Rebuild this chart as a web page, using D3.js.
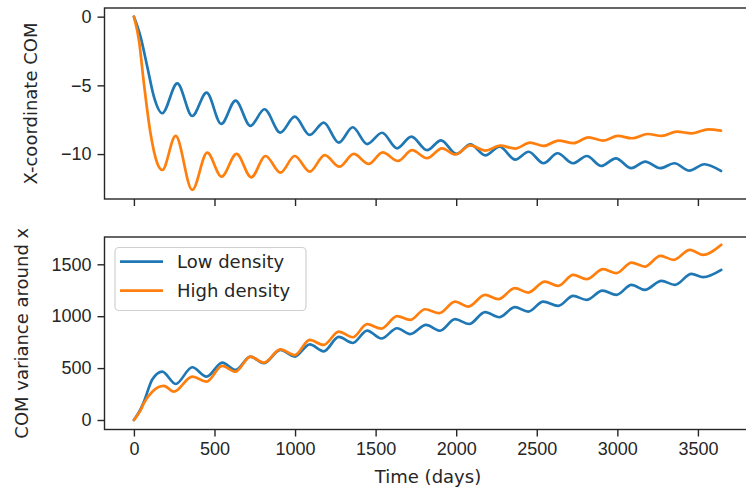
<!DOCTYPE html>
<html lang="en">
<head>
<meta charset="UTF-8">
<title>COM drift</title>
<script src="https://d3js.org/d3.v7.min.js"></script>
<style>
    body { margin: 0; padding: 0; background: #fff; }
    svg { display: block; font-family: "DejaVu Sans", sans-serif; }
    .axis text { font-size: 18px; fill: #262626; }
    .axis path, .axis line { stroke: #262626; stroke-width: 1.4; }
    .label { font-size: 18px; fill: #262626; text-anchor: middle; }
</style>
</head>
<body>
<svg width="746" height="490"></svg>
<script>
// series names and colours
const seriesNames = ["Low density", "High density"];
const seriesColors = ["#1f77b4", "#ff7f0e"];

// top panel: x-coordinate of centre of mass
const comDaysLow = [0, 41, 83, 124, 176, 269, 362, 451, 542, 631, 723, 810, 909, 998, 1091, 1178, 1271, 1358, 1447, 1540, 1633, 1722, 1819, 1906, 2001, 2088, 2181, 2269, 2366, 2449, 2542, 2629, 2724, 2811, 2900, 2991, 3086, 3173, 3266, 3354, 3447, 3540, 3643];
const comLow = [0, -1.45, -3.64, -5.82, -7.03, -4.85, -7.23, -5.53, -7.81, -6.11, -7.95, -6.74, -8.44, -7.28, -8.61, -7.71, -9.17, -8.05, -9.27, -8.45, -9.58, -8.73, -9.72, -9.0, -9.99, -9.3, -10.1, -9.46, -10.4, -9.83, -10.67, -9.94, -10.67, -10.14, -10.87, -10.31, -11.03, -10.55, -11.03, -10.67, -11.21, -10.74, -11.23];

const comDaysHigh = [0, 31, 62, 103, 145, 176, 259, 362, 455, 544, 637, 728, 817, 909, 998, 1091, 1184, 1275, 1364, 1457, 1544, 1639, 1726, 1819, 1912, 1994, 2088, 2181, 2273, 2366, 2459, 2542, 2635, 2728, 2821, 2914, 3003, 3090, 3189, 3276, 3369, 3462, 3565, 3643];
const comHigh = [0, -1.7, -4.85, -8.49, -10.67, -11.16, -8.68, -12.61, -9.9, -11.64, -9.99, -11.69, -10.14, -11.35, -10.14, -11.28, -10.07, -10.92, -9.99, -10.72, -9.88, -10.5, -9.72, -10.3, -9.58, -10.03, -9.37, -9.75, -9.39, -9.6, -9.17, -9.41, -9.02, -9.21, -8.78, -9.02, -8.68, -8.85, -8.54, -8.68, -8.37, -8.49, -8.2, -8.3];

// bottom panel: COM variance around x
const varDaysLow = [0, 40, 62, 114, 176, 259, 362, 451, 548, 631, 723, 806, 909, 998, 1091, 1178, 1271, 1358, 1447, 1536, 1633, 1714, 1813, 1900, 1993, 2081, 2179, 2267, 2364, 2447, 2540, 2633, 2726, 2809, 2908, 2994, 3088, 3170, 3274, 3357, 3460, 3532, 3645];
const varLow = [0, 100, 176, 390, 466, 347, 508, 418, 553, 482, 611, 547, 675, 611, 728, 662, 800, 742, 862, 785, 884, 828, 916, 860, 971, 925, 1040, 990, 1087, 1044, 1141, 1099, 1196, 1157, 1247, 1205, 1302, 1254, 1340, 1302, 1408, 1376, 1446];

const varDaysHigh = [0, 40, 62, 114, 186, 248, 362, 451, 548, 631, 723, 806, 909, 998, 1091, 1178, 1271, 1358, 1447, 1536, 1633, 1714, 1807, 1895, 1993, 2075, 2179, 2261, 2364, 2447, 2550, 2633, 2726, 2809, 2912, 2994, 3088, 3170, 3267, 3350, 3450, 3532, 3645];
const varHigh = [0, 90, 163, 273, 328, 273, 418, 370, 521, 466, 611, 553, 680, 625, 771, 723, 852, 797, 923, 880, 1000, 964, 1067, 1029, 1141, 1093, 1205, 1164, 1270, 1228, 1334, 1292, 1398, 1357, 1453, 1415, 1517, 1478, 1581, 1543, 1639, 1591, 1688];

// ticks
const dayTicks = [0, 500, 1000, 1500, 2000, 2500, 3000, 3500];
const comTicks = [-10, -5, 0];
const varTicks = [0, 500, 1000, 1500];

const svg = d3.select("svg");

const left = 104.5, right = 751.5;
const top1 = 8, bottom1 = 199;
const top2 = 237, bottom2 = 429.5;

const xScale = d3.scaleLinear().domain([-182.5, 3832.5]).range([left, right]);
const yCom = d3.scaleLinear().domain([-13.27, 0.63]).range([bottom1, top1]);
const yVar = d3.scaleLinear().domain([-91.5, 1763]).range([bottom2, top2]);

const fmt = d3.format("d");

function zip(days, vals) {
    return days.map(function(d, i) { return { day: d, v: vals[i] }; });
}

function drawPanel(yScale, top, bottom, series, yTicks, showXLabels) {
    const g = svg.append("g");

    const line = d3.line()
        .x(function(d) { return xScale(d.day); })
        .y(function(d) { return yScale(d.v); })
        .curve(d3.curveMonotoneX);

    series.forEach(function(s, i) {
        g.append("path")
            .datum(s)
            .attr("d", line)
            .attr("fill", "none")
            .attr("stroke", seriesColors[i])
            .attr("stroke-width", 2.7)
            .attr("stroke-linejoin", "round")
            .attr("stroke-linecap", "round");
    });

    // frame
    g.append("rect")
        .attr("x", left)
        .attr("y", top)
        .attr("width", right - left)
        .attr("height", bottom - top)
        .attr("fill", "none")
        .attr("stroke", "#262626")
        .attr("stroke-width", 1.4);

    const xAxis = d3.axisBottom(xScale)
        .tickValues(dayTicks)
        .tickSize(7)
        .tickPadding(6)
        .tickSizeOuter(0)
        .tickFormat(showXLabels ? fmt : "");

    g.append("g")
        .attr("class", "axis")
        .attr("transform", "translate(0," + bottom + ")")
        .call(xAxis)
        .call(function(a) { a.select(".domain").remove(); });

    g.append("g")
        .attr("class", "axis")
        .attr("transform", "translate(" + left + ",0)")
        .call(d3.axisLeft(yScale).tickValues(yTicks).tickFormat(fmt).tickSize(7).tickPadding(6).tickSizeOuter(0))
        .call(function(a) { a.select(".domain").remove(); });
}

drawPanel(yCom, top1, bottom1, [zip(comDaysLow, comLow), zip(comDaysHigh, comHigh)], comTicks, false);
drawPanel(yVar, top2, bottom2, [zip(varDaysLow, varLow), zip(varDaysHigh, varHigh)], varTicks, true);

// axis labels
svg.append("text")
    .attr("class", "label")
    .attr("transform", "translate(37," + ((top1 + bottom1) / 2) + ") rotate(-90)")
    .text("X-coordinate COM");

svg.append("text")
    .attr("class", "label")
    .attr("transform", "translate(28," + ((top2 + bottom2) / 2) + ") rotate(-90)")
    .text("COM variance around x");

svg.append("text")
    .attr("class", "label")
    .attr("x", (left + right) / 2)
    .attr("y", 483)
    .text("Time (days)");

// legend
const legend = svg.append("g");
legend.append("rect")
    .attr("x", 115)
    .attr("y", 247.5)
    .attr("width", 191)
    .attr("height", 63)
    .attr("rx", 4)
    .attr("fill", "white")
    .attr("fill-opacity", 0.8)
    .attr("stroke", "#d0d0d0")
    .attr("stroke-width", 1.2);

seriesNames.forEach(function(name, i) {
    const yy = 261.7 + i * 29;
    legend.append("line")
        .attr("x1", 120)
        .attr("x2", 163)
        .attr("y1", yy)
        .attr("y2", yy)
        .attr("stroke", seriesColors[i])
        .attr("stroke-width", 2.7);
    legend.append("text")
        .attr("x", 177)
        .attr("y", yy + 6.5)
        .attr("font-size", 18)
        .attr("fill", "#262626")
        .text(name);
});
</script>
</body>
</html>
